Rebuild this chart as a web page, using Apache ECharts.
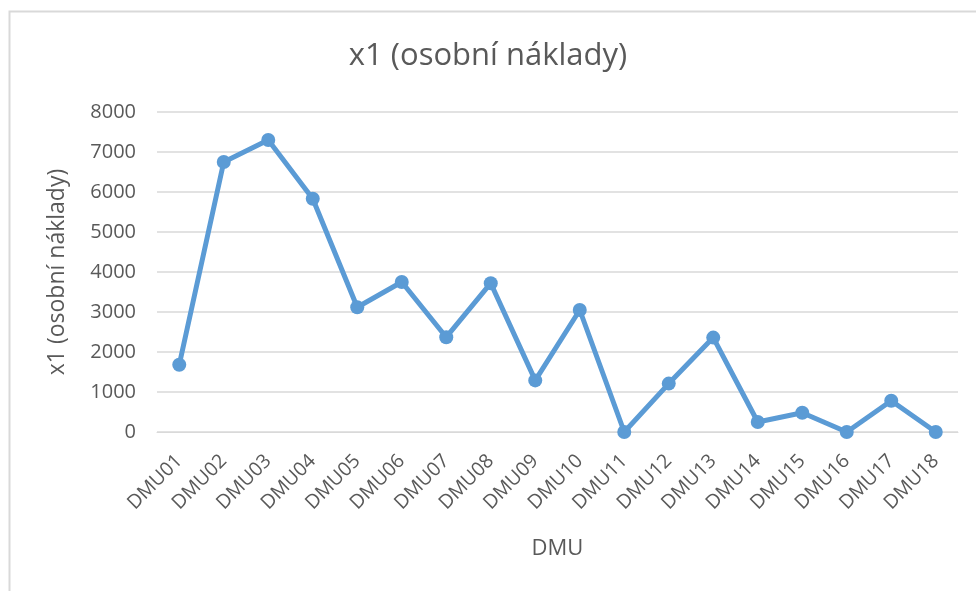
<!DOCTYPE html>
<html>
<head>
<meta charset="utf-8">
<script src="https://cdn.jsdelivr.net/npm/echarts@6/dist/echarts.min.js"></script>
<style>
html,body{margin:0;padding:0;background:#fff;}
#chart{width:976px;height:591px;}
</style>
</head>
<body>
<div id="chart"></div>
<script>
const categories = ['DMU01','DMU02','DMU03','DMU04','DMU05','DMU06','DMU07','DMU08','DMU09','DMU10','DMU11','DMU12','DMU13','DMU14','DMU15','DMU16','DMU17','DMU18'];
const values = [1680, 6750, 7300, 5830, 3120, 3750, 2370, 3720, 1290, 3050, 0, 1210, 2360, 250, 480, 0, 780, 0];
const yTicks = {min: 0, max: 8000, interval: 1000};
const titleText = 'x1 (osobní náklady)';
const xName = 'DMU';
const yName = 'x1 (osobní náklady)';

const font = 'Open Sans, sans-serif';
const chart = echarts.init(document.getElementById('chart'));
chart.setOption({
  animation: false,
  backgroundColor: '#fff',
  graphic: [{
    type: 'rect', left: 7, top: 9,
    shape: {width: 1000, height: 620},
    style: {fill: 'none', stroke: '#d9d9d9', lineWidth: 2}, silent: true
  }],
  title: {
    text: titleText, left: 'center', top: 36,
    textStyle: {fontFamily: font, fontSize: 31, fontWeight: 'normal', color: '#595959'}
  },
  grid: {left: 157, right: 18, top: 112, bottom: 159},
  xAxis: {
    type: 'category', data: categories, boundaryGap: true,
    name: xName, nameLocation: 'middle', nameGap: 106,
    nameTextStyle: {fontFamily: font, fontSize: 22, color: '#595959'},
    axisLine: {show: true, lineStyle: {color: '#d9d9d9', width: 1}},
    axisTick: {show: false},
    axisLabel: {rotate: 45, fontFamily: font, fontSize: 19.5, color: '#595959', margin: 26}
  },
  yAxis: {
    type: 'value', min: yTicks.min, max: yTicks.max, interval: yTicks.interval,
    name: yName, nameLocation: 'middle', nameGap: 88, nameRotate: 90,
    nameTextStyle: {fontFamily: font, fontSize: 23, color: '#595959'},
    axisLine: {show: false}, axisTick: {show: false},
    axisLabel: {fontFamily: font, fontSize: 20, color: '#595959', margin: 21,
      formatter: v => String(v)},
    splitLine: {lineStyle: {color: '#d9d9d9', width: 1.5}}
  },
  series: [{
    type: 'line', data: values,
    lineStyle: {color: '#5b9bd5', width: 5},
    itemStyle: {color: '#5b9bd5'},
    symbol: 'circle', symbolSize: 14
  }]
});
</script>
</body>
</html>
